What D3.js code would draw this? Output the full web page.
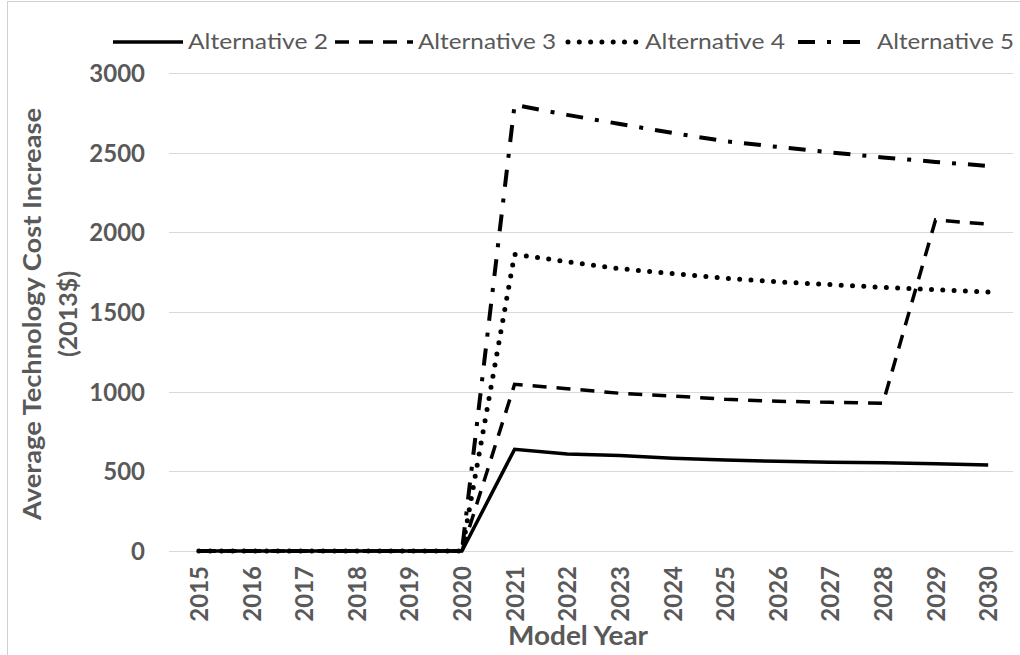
<!DOCTYPE html>
<html>
<head>
<meta charset="utf-8">
<script src="https://cdn.jsdelivr.net/npm/d3@7"></script>
<style>
  html, body { margin: 0; padding: 0; background: #fff; }
  svg { display: block; }
</style>
</head>
<body>
<svg id="chart" width="1020" height="655"></svg>
<script>
const years = ["2015","2016","2017","2018","2019","2020","2021","2022","2023","2024","2025","2026","2027","2028","2029","2030"];
const seriesNames = ["Alternative 2","Alternative 3","Alternative 4","Alternative 5"];
const alt2 = [0,0,0,0,0,0,638,609,600,582,571,563,557,554,548,540];
const alt3 = [0,0,0,0,0,0,1046,1019,990,973,952,940,933,927,2078,2051];
const alt4 = [0,0,0,0,0,0,1862,1816,1772,1741,1712,1689,1672,1655,1640,1626];
const alt5 = [0,0,0,0,0,0,2800,2737,2680,2624,2572,2536,2502,2470,2442,2417];
const yTicks = [0,500,1000,1500,2000,2500,3000];
const yTitle = ["Average Technology Cost Increase","(2013$)"];
const xTitle = "Model Year";

const allSeries = [alt2, alt3, alt4, alt5];
const styles = [
  {dash: null, width: 3.5, cap: "butt"},
  {dash: "14 10", width: 3.5, cap: "butt"},
  {dash: "0 11.3", width: 5, cap: "round"},
  {dash: "17 12 4 12", width: 4, cap: "butt"}
];

const svg = d3.select("#chart");
const gray = "#595959";
const font = "Lato, 'Open Sans', sans-serif";

// outer border
svg.append("rect").attr("x", 7.5).attr("y", 1.5).attr("width", 1030).attr("height", 700)
  .attr("fill", "none").attr("stroke", "#d0d0d0").attr("stroke-width", 1);

const x = d3.scalePoint().domain(years).range([172.5, 1014.5]).padding(0.5);
const y = d3.scaleLinear().domain([0, 3000]).range([551, 73]);

// gridlines
svg.append("g").selectAll("line").data(yTicks).join("line")
  .attr("x1", 169).attr("x2", 1013)
  .attr("y1", d => Math.round(y(d)) + 0.5).attr("y2", d => Math.round(y(d)) + 0.5)
  .attr("stroke", "#d9d9d9").attr("stroke-width", 1);

// y axis labels
const yAxis = d3.axisLeft(y).tickValues(yTicks).tickFormat(d3.format("d")).tickSize(0).tickPadding(0);
const gy = svg.append("g").attr("transform", "translate(145,0)").call(yAxis);
gy.select(".domain").remove();
gy.selectAll("text").attr("font-family", font).attr("font-weight", "bold")
  .attr("font-size", 24).attr("fill", gray).attr("dy", "0.36em");

// x axis labels
const xAxis = d3.axisBottom(x).tickSize(0).tickPadding(0);
const gx = svg.append("g").attr("transform", "translate(0,566)").call(xAxis);
gx.select(".domain").remove();
gx.selectAll("text").attr("font-family", font).attr("font-weight", "bold")
  .attr("font-size", 24).attr("fill", gray)
  .attr("transform", "rotate(-90)")
  .attr("text-anchor", "end").attr("x", 0).attr("y", 0).attr("dy", "0.36em");

// axis titles
svg.append("text").attr("x", 578).attr("y", 645).attr("text-anchor", "middle")
  .attr("font-family", font).attr("font-weight", "bold").attr("font-size", 26)
  .attr("fill", gray).attr("textLength", 140).attr("lengthAdjust", "spacingAndGlyphs")
  .text(xTitle);

const yt = svg.append("g").attr("transform", "translate(0,314) rotate(-90)");
yt.append("text").attr("x", 0).attr("y", 41).attr("text-anchor", "middle")
  .attr("font-family", font).attr("font-weight", "bold").attr("font-size", 25)
  .attr("fill", gray).attr("textLength", 412).attr("lengthAdjust", "spacingAndGlyphs")
  .text(yTitle[0]);
yt.append("text").attr("x", 0).attr("y", 77).attr("text-anchor", "middle")
  .attr("font-family", font).attr("font-weight", "bold").attr("font-size", 25)
  .attr("fill", gray).text(yTitle[1]);

// lines
const line = d3.line().x((d, i) => x(years[i])).y(d => y(d));
svg.append("g").selectAll("path").data(allSeries).join("path")
  .attr("d", d => line(d))
  .attr("fill", "none").attr("stroke", "#000")
  .attr("stroke-width", (d, i) => styles[i].width)
  .attr("stroke-dasharray", (d, i) => styles[i].dash)
  .attr("stroke-linecap", (d, i) => styles[i].cap)
  .attr("stroke-linejoin", "miter");

// legend
const legendPos = [{l1: 113, l2: 183, t: 188, tw: 140},
                   {l1: 335, l2: 413, t: 418, tw: 138},
                   {l1: 568, l2: 640, t: 645, tw: 140},
                   {l1: 798, l2: 872, t: 877, tw: 137}];
const legendDash = [null, "14 10", "0 11.3", "17 12 4 12"];
const lg = svg.append("g");
seriesNames.forEach((name, i) => {
  const p = legendPos[i];
  lg.append("line").attr("x1", p.l1).attr("x2", p.l2).attr("y1", 42).attr("y2", 42)
    .attr("stroke", "#000").attr("stroke-width", styles[i].width)
    .attr("stroke-dasharray", legendDash[i]).attr("stroke-linecap", styles[i].cap);
  lg.append("text").attr("x", p.t).attr("y", 49)
    .attr("font-family", font).attr("font-size", 21).attr("fill", gray)
    .attr("textLength", p.tw).attr("lengthAdjust", "spacingAndGlyphs")
    .text(name);
});
</script>
</body>
</html>
